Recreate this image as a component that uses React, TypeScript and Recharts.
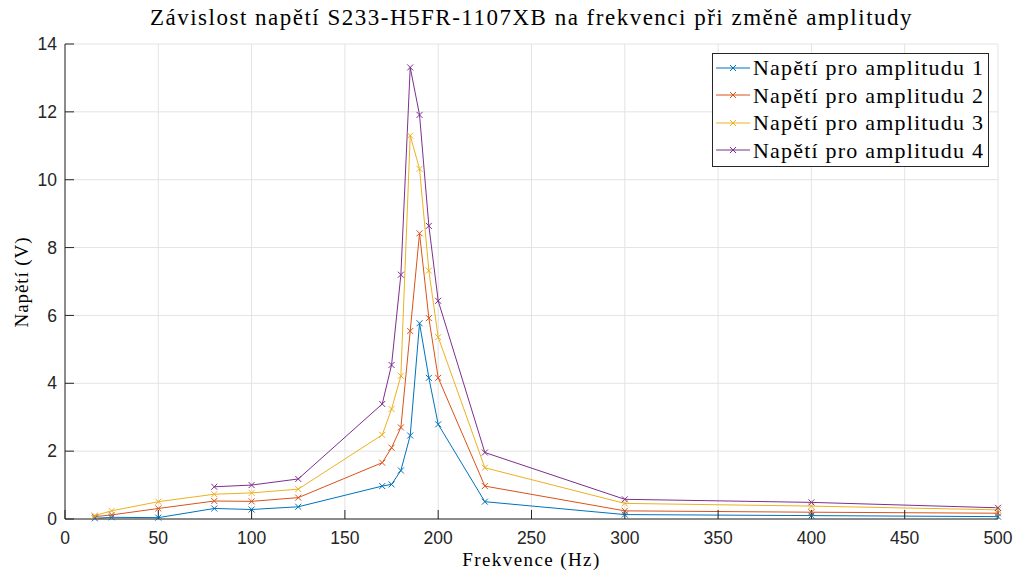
import React from "react";
import {
  LineChart,
  Line,
  XAxis,
  YAxis,
  CartesianGrid,
} from "recharts";

const freqs = [16, 25, 50, 80, 100, 125, 170, 175, 180, 185, 190, 195, 200, 225, 300, 400, 500];
const amp1 = [0.02, 0.05, 0.04, 0.31, 0.28, 0.36, 0.97, 1.02, 1.43, 2.46, 5.77, 4.16, 2.79, 0.51, 0.13, 0.1, 0.07];
const amp2 = [0.07, 0.12, 0.31, 0.53, 0.52, 0.63, 1.66, 2.1, 2.7, 5.54, 8.42, 5.92, 4.16, 0.97, 0.24, 0.2, 0.17];
const amp3 = [0.1, 0.24, 0.51, 0.73, 0.77, 0.88, 2.48, 3.24, 4.22, 11.3, 10.32, 7.32, 5.36, 1.51, 0.46, 0.38, 0.27];
const amp4 = [null, null, null, 0.95, 1.0, 1.18, 3.39, 4.54, 7.2, 13.31, 11.91, 8.64, 6.43, 1.96, 0.58, 0.49, 0.33];

const xTicks = [0, 50, 100, 150, 200, 250, 300, 350, 400, 450, 500];
const yTicks = [0, 2, 4, 6, 8, 10, 12, 14];

const series = [
  { key: "a1", name: "Napětí pro amplitudu 1", color: "#0072BD", values: amp1 },
  { key: "a2", name: "Napětí pro amplitudu 2", color: "#D95319", values: amp2 },
  { key: "a3", name: "Napětí pro amplitudu 3", color: "#EDB120", values: amp3 },
  { key: "a4", name: "Napětí pro amplitudu 4", color: "#7E2F8E", values: amp4 },
];

const data = freqs.map((f, i) => {
  const row: Record<string, number | null> = { f };
  series.forEach((s) => (row[s.key] = s.values[i]));
  return row;
});

const serif = "'Liberation Serif', 'Times New Roman', serif";
const sans = "'Liberation Sans', Arial, sans-serif";
const axisColor = "#262626";

function cross(color: string) {
  return (p: any) => {
    if (p.cx == null || p.cy == null || p.value == null) return <g key={p.key} />;
    const s = 3;
    return (
      <path
        key={p.key}
        d={`M${p.cx - s},${p.cy - s}L${p.cx + s},${p.cy + s}M${p.cx - s},${p.cy + s}L${p.cx + s},${p.cy - s}`}
        stroke={color}
        strokeWidth={1}
        fill="none"
      />
    );
  };
}

function LegendBox() {
  return (
    <div
      style={{
        position: "absolute",
        left: 712,
        top: 53,
        width: 277,
        height: 114,
        boxSizing: "border-box",
        border: "1px solid #262626",
        background: "#fff",
        padding: "0 0 0 3px",
        fontFamily: serif,
        fontSize: 22,
        letterSpacing: 1.2,
        color: "#000",
        lineHeight: "27.5px",
      }}
    >
      {series.map((s) => (
        <div key={s.key} style={{ display: "flex", alignItems: "center", whiteSpace: "nowrap" }}>
          <svg width={34} height={10} style={{ marginRight: 3 }}>
            <line x1={0} y1={5} x2={34} y2={5} stroke={s.color} strokeWidth={1} />
            <path d="M14,2L20,8M14,8L20,2" stroke={s.color} strokeWidth={1} />
          </svg>
          <span>{s.name}</span>
        </div>
      ))}
    </div>
  );
}

export default function App() {
  return (
    <div style={{ position: "absolute", left: 0, top: 0, width: 1018, height: 576, background: "#fff" }}>
      <div
        style={{
          position: "absolute",
          top: 5,
          left: 65,
          width: 933,
          textAlign: "center",
          fontFamily: serif,
          fontSize: 23,
          letterSpacing: 1.5,
          color: "#000",
          whiteSpace: "nowrap",
        }}
      >
        Závislost napětí S233-H5FR-1107XB na frekvenci při změně amplitudy
      </div>
      <div
        style={{
          position: "absolute",
          top: 549,
          left: 65,
          width: 933,
          textAlign: "center",
          fontFamily: serif,
          fontSize: 19,
          letterSpacing: 1.4,
          color: "#000",
        }}
      >
        Frekvence (Hz)
      </div>
      <div
        style={{
          position: "absolute",
          left: 22,
          top: 282,
          transform: "translate(-50%, -50%) rotate(-90deg)",
          fontFamily: serif,
          fontSize: 19,
          letterSpacing: 0.9,
          color: "#000",
          whiteSpace: "nowrap",
        }}
      >
        Napětí (V)
      </div>
      <LineChart width={1018} height={576} data={data} margin={{ top: 44, right: 20, bottom: 0, left: 0 }}>
        <CartesianGrid stroke="#e3e3e3" vertical horizontal />
        <XAxis
          dataKey="f"
          type="number"
          domain={[0, 500]}
          ticks={xTicks}
          interval={0}
          height={57}
          stroke={axisColor}
          tickSize={-9}
          tickMargin={22}
          tick={{ fill: axisColor, fontFamily: sans, fontSize: 17.5 }}
        />
        <YAxis
          type="number"
          domain={[0, 14]}
          ticks={yTicks}
          interval={0}
          width={65}
          stroke={axisColor}
          tickSize={-9}
          tickMargin={17}
          tick={{ fill: axisColor, fontFamily: sans, fontSize: 17.5 }}
        />
        {series.map((s) => (
          <Line
            key={s.key}
            dataKey={s.key}
            name={s.name}
            type="linear"
            stroke={s.color}
            strokeWidth={1}
            dot={cross(s.color)}
            activeDot={false}
            isAnimationActive={false}
          />
        ))}
      </LineChart>
      <LegendBox />
    </div>
  );
}
